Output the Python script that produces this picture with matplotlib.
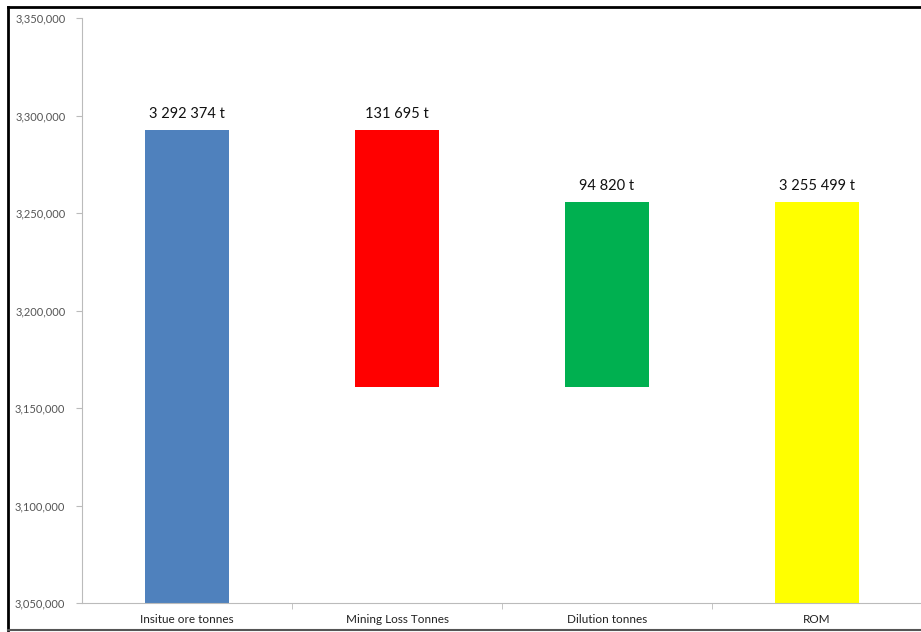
import matplotlib
matplotlib.use("Agg")
import matplotlib.pyplot as plt
from matplotlib.lines import Line2D
from matplotlib.ticker import FuncFormatter, FixedLocator

categories = ["Insitue ore tonnes", "Mining Loss Tonnes", "Dilution tonnes", "ROM"]
bar_bottoms = [3050000, 3160679, 3160679, 3050000]
bar_tops = [3292374, 3292374, 3255499, 3255499]
labels = ["3 292 374 t", "131 695 t", "94 820 t", "3 255 499 t"]
colors = ["#4f81bd", "#ff0000", "#00b050", "#ffff00"]
yticks = [3050000, 3100000, 3150000, 3200000, 3250000, 3300000, 3350000]

plt.rcParams['font.family'] = ['Lato', 'DejaVu Sans']

fig = plt.figure(figsize=(9.21, 6.32), dpi=100)
W, H = 921, 632
ax = fig.add_axes([82 / W, 1 - 603 / H, (922 - 82) / W, (603 - 18) / H])

x = list(range(len(categories)))
heights = [t - b for t, b in zip(bar_tops, bar_bottoms)]
ax.bar(x, heights, bottom=bar_bottoms, width=0.4, color=colors, zorder=2)
for xi, top, lab in zip(x, bar_tops, labels):
    ax.annotate(lab, (xi, top), xytext=(0, 7), textcoords="offset points",
                ha="center", va="bottom", fontsize=10.5, color="#111111")

ax.set_xlim(-0.5, len(categories) - 0.5)
ax.set_ylim(yticks[0], yticks[-1])
ax.set_yticks(yticks)
ax.yaxis.set_major_formatter(FuncFormatter(lambda v, p: f"{int(v):,}"))
ax.set_xticks(x)
ax.set_xticklabels(categories)
ax.xaxis.set_minor_locator(FixedLocator([i + 0.5 for i in x[:-1]]))
ax.tick_params(axis="x", which="major", length=0, pad=8, labelsize=8.5, colors="#222222")
ax.tick_params(axis="x", which="minor", length=4, color="#bbbbbb")
ax.tick_params(axis="y", length=4, color="#bbbbbb", labelsize=8, labelcolor="#555555", pad=8)
for s in ["top", "right"]:
    ax.spines[s].set_visible(False)
ax.spines["left"].set_color("#bbbbbb")
ax.spines["bottom"].set_color("#bbbbbb")

# outer frame
fig.add_artist(Line2D([8 / W, 8 / W], [1 - 7 / H, 1 - 630 / H], transform=fig.transFigure, color="black", lw=2))
fig.add_artist(Line2D([8 / W, 1], [1 - 7 / H, 1 - 7 / H], transform=fig.transFigure, color="black", lw=2))
fig.add_artist(Line2D([8 / W, 1], [1 - 630 / H, 1 - 630 / H], transform=fig.transFigure, color="#555555", lw=1.5))

fig.savefig("out.png", dpi=100)
